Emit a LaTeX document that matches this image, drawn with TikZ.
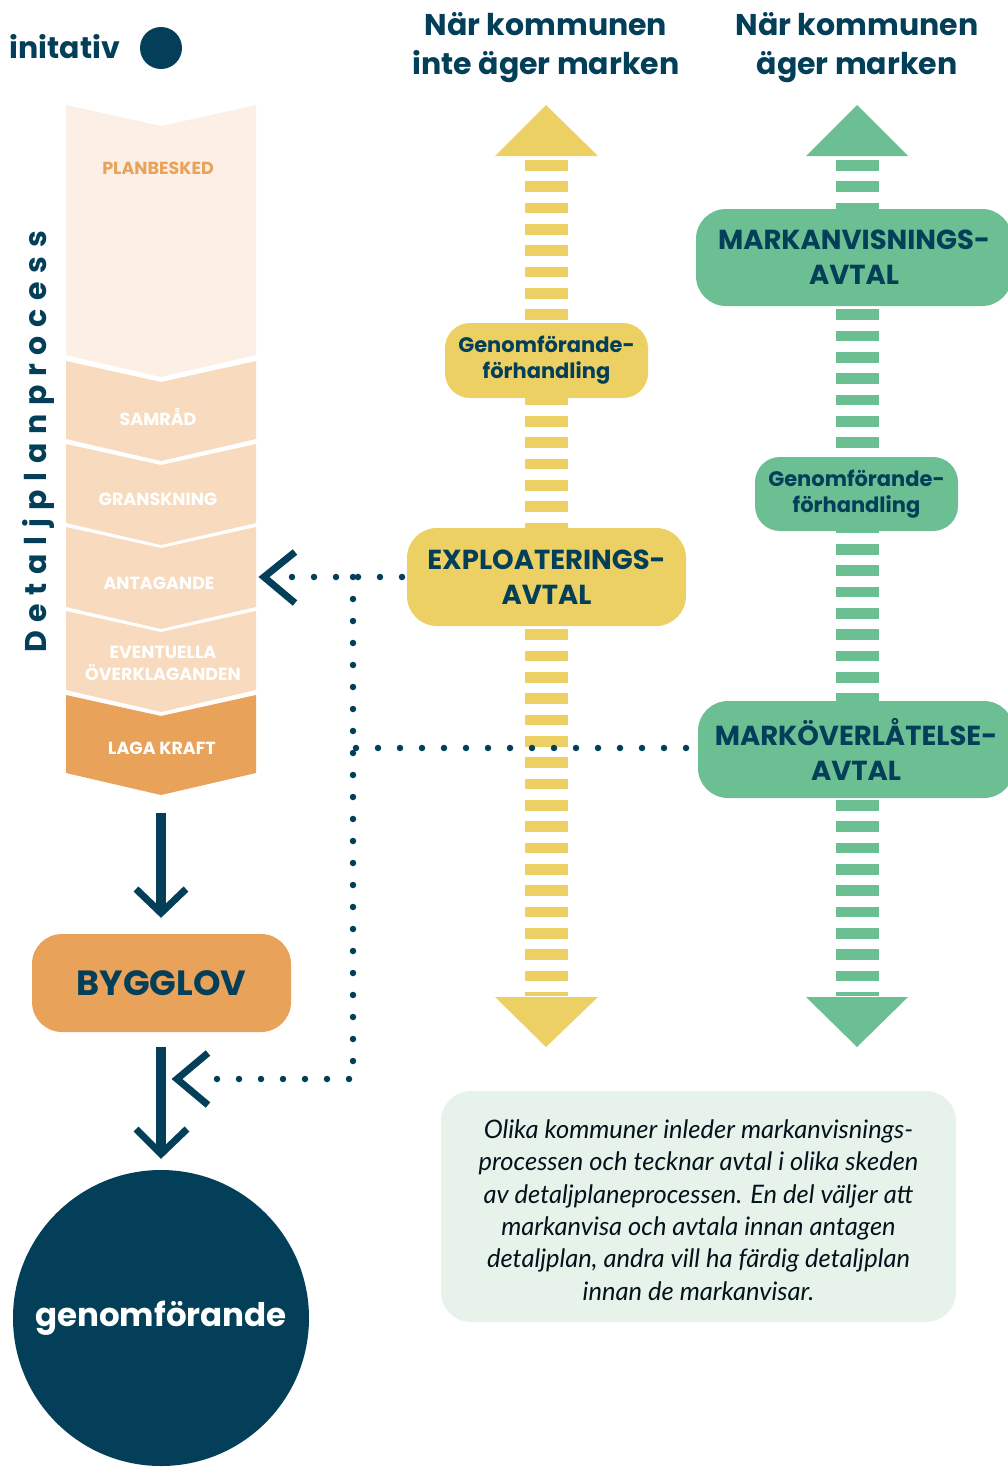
\documentclass[tikz,border=0pt]{standalone}
\usepackage{fontspec}
\setmainfont{Poppins}
\newfontfamily\lato{Lato}
\definecolor{dk}{HTML}{033F58}
\definecolor{yel}{HTML}{EDD064}
\definecolor{grn}{HTML}{6CBE93}
\definecolor{org}{HTML}{E9A25A}
\definecolor{pch}{HTML}{F8DBBE}
\definecolor{lpch}{HTML}{FCEFE6}
\definecolor{note}{HTML}{E7F2EA}
\newcommand\chevseg[3]{\fill[#3] (66,#1) -- (161,#1+21) -- (256,#1) -- (256,#2) -- (161,#2+22) -- (66,#2) -- cycle;}
\tikzset{
  boxbase/.style={rounded corners=30pt, text=dk, align=center, inner sep=0pt, font=\bfseries\fontsize{27.5}{35}\selectfont},
  ybox/.style={boxbase, fill=yel},
  gbox/.style={boxbase, fill=grn},
  smallbox/.style={rounded corners=25pt, font=\bfseries\fontsize{21}{26}\selectfont},
  chlabel/.style={text=white, align=center, font=\bfseries\fontsize{17.5}{22}\selectfont},
  heading/.style={text=dk, align=center, font=\bfseries\fontsize{30}{39}\selectfont},
  ydash/.style={draw=yel, line width=43pt, dash pattern=on 10.7pt off 10.63pt},
  gdash/.style={draw=grn, line width=43pt, dash pattern=on 10.7pt off 10.63pt},
  dotline/.style={draw=dk, line width=6.5pt, line cap=round, dash pattern=on 0pt off 22pt},
  darrow/.style={draw=dk, line width=10pt},
  dhead/.style={draw=dk, line width=7pt, miter limit=10},
}
\begin{document}
\begin{tikzpicture}[x=1pt,y=-1pt]
\useasboundingbox (0,0) rectangle (1008,1468);

% title items
\node[text=dk, font=\bfseries\fontsize{30}{36}\selectfont] (init) at (65,47) {initativ};
\node[circle, fill=dk, minimum size=42pt, inner sep=0pt] (initdot) at (161,48) {};

\node[heading] (h1) at (546,48) {När kommunen\\inte äger marken};
\node[heading] (h2) at (857,48) {När kommunen\\äger marken};

% chevron stack
\chevseg{105}{355}{lpch}
\chevseg{361}{439}{pch}
\chevseg{444}{523}{pch}
\chevseg{527}{607}{pch}
\chevseg{611}{690}{pch}
\chevseg{695}{773}{org}

\node[chlabel, text=org] (plan) at (158,168) {PLANBESKED};
\node[chlabel] (samr) at (158,417) {SAMRÅD};
\node[chlabel] (gran) at (158,499) {GRANSKNING};
\node[chlabel] (anta) at (159,583) {ANTAGANDE};
\node[chlabel] (even) at (163,663) {EVENTUELLA\\ÖVERKLAGANDEN};
\node[chlabel] (laga) at (162,748) {LAGA KRAFT};

\node[rotate=90, text=dk, font=\bfseries\fontsize{30}{36}\selectfont\addfontfeature{LetterSpace=29}] (dpp) at (38,442) {Detaljplanprocess};

% yellow column
\fill[yel] (546,105) -- (598,156) -- (495,156) -- cycle;
\fill[yel] (546,1047) -- (598,997) -- (495,997) -- cycle;
\coordinate (yt) at (546,160);
\coordinate (yb) at (546,996);
\draw[ydash] (yt) -- (yb);

% green column
\fill[grn] (857,105) -- (908,156) -- (806,156) -- cycle;
\fill[grn] (857,1047) -- (908,997) -- (806,997) -- cycle;
\coordinate (gt) at (857,160);
\coordinate (gb) at (857,996);
\draw[gdash] (gt) -- (gb);

% boxes
\node[ybox, smallbox, minimum width=203pt, minimum height=75pt] (ygen) at (546.5,360.5) {Genomförande-\\förhandling};
\node[ybox, minimum width=279pt, minimum height=98pt] (expl) at (546.5,577) {EXPLOATERINGS-\\AVTAL};
\node[gbox, minimum width=316pt, minimum height=97pt] (mav) at (854,257.5) {MARKANVISNINGS-\\AVTAL};
\node[gbox, smallbox, minimum width=203pt, minimum height=74pt] (ggen) at (856.5,494) {Genomförande-\\förhandling};
\node[gbox, minimum width=316pt, minimum height=97pt] (mov) at (856,749.5) {MARKÖVERLÅTELSE-\\AVTAL};

% bygglov + genomforande
\node[boxbase, fill=org, minimum width=259pt, minimum height=98pt, font=\bfseries\fontsize{35}{40}\selectfont] (byg) at (161.5,983) {BYGGLOV};
\node[circle, fill=dk, minimum size=296pt, inner sep=0pt, text=white, font=\bfseries\fontsize{32.5}{40}\selectfont] (gen) at (161,1318) {genomförande};

% arrows down
\coordinate (a1s) at (161,813);
\coordinate (a1e) at (161,913);
\draw[darrow] (a1s) -- (a1e);
\draw[dhead] (136,889) -- (a1e) -- (186,889);
\coordinate (a2s) at (161,1047);
\coordinate (a2e) at (161,1154);
\draw[darrow] (a2s) -- (a2e);
\draw[dhead] (136,1129) -- (a2e) -- (187,1129);

% dotted connectors
\coordinate (d1) at (402,577);
\coordinate (d2) at (278,577);
\coordinate (j1) at (353,577);
\coordinate (j2) at (353,1079);
\coordinate (d3) at (205,1079);
\coordinate (d4) at (686,748);
\coordinate (j3) at (353,748);
\draw[dotline] (d1) -- (d2);
\draw[dotline] (j1) -- (j2) -- (d3);
\draw[dotline] (d4) -- (j3);
\coordinate (c1) at (264,577);
\draw[dhead] (295,552) -- (c1) -- (295,603);
\coordinate (c2) at (177,1079);
\draw[dhead] (208,1053) -- (c2) -- (208,1105);

% note
\node[fill=note, rounded corners=30pt, minimum width=515pt, minimum height=231pt, inner sep=0pt] (notebox) at (698.5,1206.5) {};
\node[text=dk!30!black, align=center, font=\lato\itshape\fontsize{25.5}{32.3}\selectfont] (notetxt) at (698.5,1210) {Olika kommuner inleder markanvisnings-\\processen och tecknar avtal i olika skeden\\av detaljplaneprocessen. En del väljer att\\markanvisa och avtala innan antagen\\detaljplan, andra vill ha färdig detaljplan\\innan de markanvisar.};
\end{tikzpicture}
\end{document}
